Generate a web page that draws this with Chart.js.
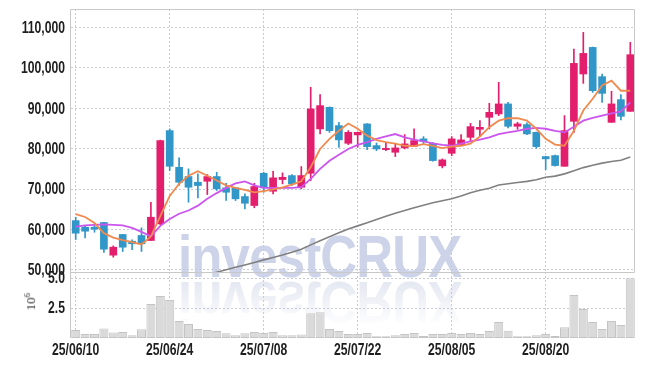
<!DOCTYPE html>
<html>
<head>
<meta charset="utf-8">
<script src="https://cdn.jsdelivr.net/npm/chart.js@4/dist/chart.umd.min.js"></script>
<style>
  html, body { margin: 0; padding: 0; background: #ffffff; }
  #wrap { position: relative; width: 645px; height: 366px; overflow: hidden; background: #fff; }
  canvas { position: absolute; left: 0; }
  #c1 { top: 0; }
  #c2 { top: 262px; }
  .wm { position: absolute; left: 178px; font-family: "Liberation Sans", Arial, sans-serif; font-weight: bold;
        font-size: 60px; line-height: 60px; white-space: nowrap; transform-origin: 0 50%; letter-spacing: -1px; }
  #wm1 { top: 227px; color: #cdd3e8; transform: scaleX(0.85); }
  #wm2 { top: 272px; color: #e0e4ef; transform: scaleX(0.85) scaleY(-1);
         -webkit-mask-image: linear-gradient(to top, rgba(0,0,0,1) 0%, rgba(0,0,0,0.55) 45%, rgba(0,0,0,0) 90%); }
  #unit { position: absolute; left: 22px; top: 293px; font-family: "Liberation Serif", "DejaVu Serif", serif; font-size: 13px;
          color: #333; transform: rotate(-90deg); transform-origin: 50% 50%; }
  #unit sup { font-size: 9px; }
</style>
</head>
<body>
<div id="wrap">
  <div class="wm" id="wm1">investCRUX</div>
  <div class="wm" id="wm2">investCRUX</div>
  <canvas id="c1" width="645" height="290"></canvas>
  <canvas id="c2" width="645" height="104"></canvas>
  <div id="unit">10<sup>6</sup></div>
</div>
<script>
const dates = [
  "25/06/10","25/06/11","25/06/12","25/06/13","25/06/16","25/06/17","25/06/18","25/06/19","25/06/20","25/06/23",
  "25/06/24","25/06/25","25/06/26","25/06/27","25/06/30","25/07/01","25/07/02","25/07/03","25/07/04","25/07/07",
  "25/07/08","25/07/09","25/07/10","25/07/11","25/07/14","25/07/15","25/07/16","25/07/17","25/07/18","25/07/21",
  "25/07/22","25/07/23","25/07/24","25/07/25","25/07/28","25/07/29","25/07/30","25/07/31","25/08/01","25/08/04",
  "25/08/05","25/08/06","25/08/07","25/08/08","25/08/11","25/08/12","25/08/13","25/08/14","25/08/18","25/08/19",
  "25/08/20","25/08/21","25/08/22","25/08/25","25/08/26","25/08/27","25/08/28","25/08/29","25/09/01","25/09/02"
];
const opens = [62200,60570,60570,61730,53660,58770,57110,58520,57290,61410,
  84440,75380,73090,71680,71930,73090,70300,70300,68150,65930,
  73900,69460,72350,73330,70450,73900,84860,90200,85680,81310,
  83380,86100,80740,79750,79090,80170,80570,82400,81310,75730,
  78840,80990,82790,84770,87730,88570,91040,85510,85930,84020,
  78030,78270,75630,86740,98440,105010,97780,86490,92100,89210];
const highs = [63040,60800,61000,61800,55970,58800,57460,60420,66740,82100,
  84860,77700,74990,73750,73580,74150,71430,70400,68800,71430,
  74150,74400,74000,73580,75560,95140,93330,90300,86500,84440,
  84100,86200,81400,81560,81160,83460,84860,82960,81500,77450,
  82960,83460,86250,86910,91190,96370,91430,86490,86350,84100,
  78100,78370,88150,104620,108720,105100,98440,94150,93330,106250];
const lows = [57530,57950,59330,54320,53160,54570,54990,54570,57290,61200,
  74570,70870,66740,67830,68640,69630,67160,67160,65110,65370,
  69210,68800,71280,70870,70050,72100,83630,84000,80320,80990,
  80320,79750,79500,79500,78030,79920,80490,81160,76870,75240,
  78270,80740,81800,83210,84860,88150,85110,84770,83460,80070,
  74820,75640,75630,84020,96120,93900,91430,86490,87090,89210];
const closes = [59090,59580,60080,55140,55630,55630,56470,56470,63040,81980,
  75630,71680,70450,70870,73090,70050,69210,67580,66490,70620,
  70300,72770,72910,71280,73330,89800,90620,84440,82150,84020,
  84020,80490,79920,80070,80170,81160,81980,81800,77040,77210,
  82400,82150,85430,85260,88960,91040,85510,86100,83630,80490,
  77460,75800,84440,101060,103530,94320,93650,91040,87980,103210];
const ma5 = [63800,63100,61600,59100,58000,57400,56900,56300,58300,63300,
  68300,71300,73300,74400,73300,72100,70900,70300,69800,69200,
  69500,69900,70400,71100,71900,75400,79900,82400,84400,86200,
  84900,83200,82100,81600,81200,80700,80600,81100,80700,80100,
  80500,80700,81200,83000,85300,86900,87500,87500,86900,84900,
  82400,81000,80700,84400,89400,92300,95600,96800,94300,94300];
const ma20 = [60700,61000,61150,61250,61150,61000,60400,59400,58300,60900,
  62600,63900,64700,65900,67600,69000,70300,71400,71900,70900,
  70300,70300,70300,70300,70450,72500,75000,77000,78500,79900,
  80900,81600,82400,83000,83600,82800,82200,81800,81300,80900,
  80700,81200,81800,82200,82800,83600,84000,84400,84900,85100,
  84900,84400,84000,85400,86900,87600,88150,88700,89200,91400];
const ma60 = [null,null,null,null,null,null,null,null,null,null,
  null,null,null,null,48900,49450,50050,50650,51250,51850,
  52500,53100,53700,54400,55150,56200,57200,58200,59200,60100,
  60900,61700,62500,63300,64000,64700,65400,66000,66600,67100,
  67600,68300,69100,69700,70200,71000,71300,71600,71900,72300,
  72900,73200,73750,74500,75300,75900,76400,76800,77100,77900];
const volumes = [0.67,0.33,0.33,0.80,0.45,0.50,0.22,0.72,2.83,3.50,
  3.17,1.42,1.17,0.75,0.67,0.58,0.39,0.22,0.39,0.50,
  0.42,0.50,0.22,0.22,0.30,2.06,2.14,0.75,0.58,0.33,
  0.33,0.42,0.14,0.14,0.22,0.33,0.42,0.17,0.33,0.33,
  0.42,0.33,0.42,0.33,0.58,1.33,0.61,0.14,0.14,0.22,
  0.33,0.17,0.89,3.58,2.42,1.33,0.75,1.42,1.08,4.97];
const priceTicks = [50000,60000,70000,80000,90000,100000,110000];
const volumeTicks = [2.5,5.0];

const UP = '#e31e6c', DOWN = '#3196c8';
const GRID = '#c9c9dc';
const FONT = "'Liberation Sans', Arial, sans-serif";
const LABEL_FONT = "bold 16px " + FONT;
const SQUEEZE = 0.76;
const candleColors = opens.map((o, i) => closes[i] >= o ? UP : DOWN);

const frame = {
  id: 'frame',
  afterDraw(chart, args, opts) {
    const {ctx, chartArea: a} = chart;
    ctx.save();
    ctx.strokeStyle = opts.color || '#c4c4c4';
    ctx.lineWidth = 1;
    ctx.beginPath();
    if (opts.full) {
      ctx.rect(Math.round(a.left) - 0.5, Math.round(a.top) + 0.5, Math.round(a.right - a.left), Math.round(a.bottom - a.top));
    } else {
      ctx.moveTo(Math.round(a.left) - 0.5, a.top); ctx.lineTo(Math.round(a.left) - 0.5, a.bottom);
    }
    ctx.stroke();
    ctx.restore();
  }
};

// condensed tick labels, drawn as canvas text
const labels = {
  id: 'labels',
  afterDraw(chart, args, opts) {
    const {ctx, chartArea: a} = chart;
    ctx.save();
    ctx.font = LABEL_FONT;
    ctx.fillStyle = '#1e1e1e';
    const ys = chart.scales.y;
    ctx.textAlign = 'right';
    ctx.textBaseline = 'middle';
    ys.ticks.forEach(t => {
      const y = ys.getPixelForValue(t.value);
      ctx.save();
      ctx.translate(a.left - 6, y + 1);
      ctx.scale(SQUEEZE, 1);
      ctx.fillText(opts.yfmt(t.value), 0, 0);
      ctx.restore();
    });
    if (opts.xlabels) {
      const xs = chart.scales.x;
      ctx.textAlign = 'center';
      ctx.textBaseline = 'top';
      xs.ticks.forEach(t => {
        const x = xs.getPixelForValue(t.value);
        ctx.save();
        ctx.translate(x, a.bottom + 5);
        ctx.scale(SQUEEZE, 1);
        ctx.fillText(dates[t.value], 0, 0);
        ctx.restore();
      });
    }
    ctx.restore();
  }
};

Chart.defaults.font.family = FONT;
Chart.defaults.animation = false;

new Chart(document.getElementById('c1'), {
  type: 'bar',
  data: {
    labels: dates,
    datasets: [
      { type: 'line', label: 'MA5', data: ma5, borderColor: '#f08a4e', borderWidth: 1.8, pointRadius: 0, tension: 0, order: 0 },
      { type: 'line', label: 'MA20', data: ma20, borderColor: '#cc55ee', borderWidth: 1.8, pointRadius: 0, tension: 0, order: 0 },
      { type: 'line', label: 'MA60', data: ma60, borderColor: '#808080', borderWidth: 1.6, pointRadius: 0, tension: 0, order: 0 },
      { label: 'body', data: opens.map((o, i) => [o, closes[i]]), backgroundColor: candleColors,
        barThickness: 7, grouped: false, borderSkipped: false, order: 1 },
      { label: 'wick', data: lows.map((l, i) => [l, highs[i]]), backgroundColor: candleColors,
        barThickness: 1, grouped: false, borderSkipped: false, order: 2 }
    ]
  },
  options: {
    responsive: false,
    layout: { padding: { top: 9, right: 10, bottom: 18, left: 0 } },
    plugins: { legend: { display: false }, tooltip: { enabled: false }, frame: { full: true, color: '#c8c8c8' },
               labels: { yfmt: v => v.toLocaleString('en-US'), xlabels: false } },
    scales: {
      x: {
        type: 'category', offset: true,
        grid: { offset: false, color: GRID, drawTicks: false, lineWidth: 1 },
        border: { display: false, dash: [2, 2] },
        ticks: { display: false, autoSkip: false },
        afterBuildTicks: s => { s.ticks = s.ticks.filter(t => t.value % 10 === 0); },
        afterFit: s => { s.height = 0; }
      },
      y: {
        min: 49500, max: 114500,
        grid: { color: GRID, drawTicks: false },
        border: { display: false, dash: [2, 2] },
        ticks: { display: false },
        afterBuildTicks: s => { s.ticks = priceTicks.map(v => ({ value: v })); },
        afterFit: s => { s.width = 71; }
      }
    }
  },
  plugins: [frame, labels]
});

new Chart(document.getElementById('c2'), {
  type: 'bar',
  data: {
    labels: dates,
    datasets: [
      { label: 'Volume', data: volumes, backgroundColor: '#dadada', borderColor: '#c4c4c4', borderWidth: 1,
        barPercentage: 1, categoryPercentage: 0.96, borderSkipped: false }
    ]
  },
  options: {
    responsive: false,
    layout: { padding: { top: 10, right: 10, bottom: 0, left: 0 } },
    plugins: { legend: { display: false }, tooltip: { enabled: false }, frame: { full: false, color: '#c8c8c8' },
               labels: { yfmt: v => v.toFixed(1), xlabels: true } },
    scales: {
      x: {
        type: 'category', offset: true,
        grid: { offset: false, color: GRID, drawTicks: false },
        border: { display: false, dash: [2, 2] },
        ticks: { display: false, autoSkip: false },
        afterBuildTicks: s => { s.ticks = s.ticks.filter(t => t.value % 10 === 0); },
        afterFit: s => { s.height = 28; }
      },
      y: {
        min: 0, max: 5.5,
        grid: { color: GRID, drawTicks: false },
        border: { display: false, dash: [2, 2] },
        ticks: { display: false },
        afterBuildTicks: s => { s.ticks = volumeTicks.map(v => ({ value: v })); },
        afterFit: s => { s.width = 71; }
      }
    }
  },
  plugins: [frame, labels]
});
</script>
</body>
</html>
